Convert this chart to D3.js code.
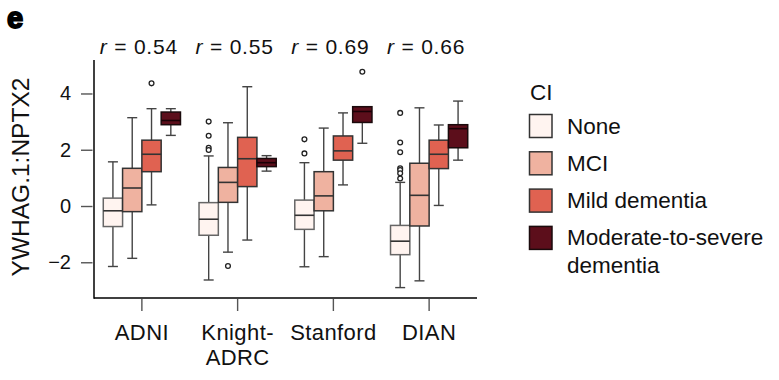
<!DOCTYPE html>
<html><head><meta charset="utf-8">
<script src="https://cdn.jsdelivr.net/npm/d3@7"></script>
<style>body{margin:0;background:#fff}svg{display:block;font-family:"Liberation Sans",Arial,sans-serif}</style>
</head><body><svg id="c" width="779" height="380"></svg>
<script>
const cohorts = ["ADNI", "Knight-ADRC", "Stanford", "DIAN"];
const cohortLines = [["ADNI"], ["Knight-", "ADRC"], ["Stanford"], ["DIAN"]];
const rValues = ["0.54", "0.55", "0.69", "0.66"];
const ciLevels = ["None", "MCI", "Mild dementia", "Moderate-to-severe dementia"];
const ciLegend = [["None"], ["MCI"], ["Mild dementia"], ["Moderate-to-severe", "dementia"]];
const ciColors = ["#fff4f0", "#efb2a0", "#e06251", "#5c0e1b"];
const yTicks = [-2, 0, 2, 4];
// [whisker low, Q1, median, Q3, whisker high] per cohort, per CI level
const statsADNI = [[-2.15, -0.73, -0.17, 0.28, 1.57], [-1.86, -0.2, 0.64, 1.34, 3.14], [0.04, 1.22, 1.84, 2.34, 3.46], [2.51, 2.89, 3.04, 3.34, 3.46]];
const statsKnight = [[-2.63, -1.04, -0.47, 0.12, 1.78], [-1.64, 0.13, 0.84, 1.37, 2.96], [-1.21, 0.69, 1.68, 2.44, 4.24], [1.24, 1.40, 1.54, 1.69, 1.79]];
const statsStanford = [[-2.16, -0.83, -0.33, 0.21, 1.54], [-1.8, -0.17, 0.36, 1.22, 2.77], [0.75, 1.63, 1.96, 2.49, 3.31], [2.23, 2.97, 3.36, 3.53, 3.53]];
const statsDIAN = [[-2.9, -1.73, -1.25, -0.69, 0.84], [-2.66, -0.71, 0.38, 1.52, 3.49], [0.02, 1.33, 1.84, 2.34, 2.88], [1.63, 2.07, 2.75, 2.89, 3.73]];
const outADNI = [[], [], [4.36], []];
const outKnight = [[3.0, 2.5, 2.07, 1.99], [-2.13], [], []];
const outStanford = [[2.37, 1.87], [], [], [4.77]];
const outDIAN = [[3.31, 2.26, 1.91, 1.34, 1.28, 1.16, 0.98], [], [], []];

const allStats = [statsADNI, statsKnight, statsStanford, statsDIAN];
const allOut = [outADNI, outKnight, outStanford, outDIAN];

const svg = d3.select("#c");
const x = d3.scaleBand().domain(cohorts).range([94, 477]);
const boxW = 19.3;
const xs = d3.scaleBand().domain(ciLevels).range([-2 * boxW, 2 * boxW]);
const y = d3.scaleLinear().domain([-3.27, 5.19]).range([298, 60]);
const color = d3.scaleOrdinal().domain(ciLevels).range(ciColors);

// panel label
svg.append("text").attr("x", 7).attr("y", 28).attr("font-size", 29).attr("font-weight", 900)
  .attr("stroke", "#000").attr("stroke-width", 1.8).text("e");

// r labels
svg.selectAll("text.r").data(cohorts).join("text").attr("class", "r")
  .attr("x", (d) => x(d) + x.bandwidth() / 2 - 3).attr("y", 54)
  .attr("text-anchor", "middle").attr("font-size", 21).attr("letter-spacing", 0.8).attr("fill", "#111")
  .each(function (d, i) {
    const t = d3.select(this);
    t.append("tspan").attr("font-style", "italic").text("r");
    t.append("tspan").text(" = " + rValues[i]);
  });

// y axis
const ya = svg.append("g").attr("transform", "translate(92.5,0)")
  .call(d3.axisLeft(y).tickValues(yTicks).tickSize(11.5).tickPadding(10).tickFormat((d) => d < 0 ? "\u2212" + Math.abs(d) : d));
ya.select(".domain").remove();
ya.selectAll(".tick line").attr("stroke", "#555").attr("stroke-width", 1.4);
ya.selectAll(".tick text").attr("font-size", 20).attr("fill", "#111").attr("font-family", "Liberation Sans, Arial, sans-serif");

// x axis
const xa = svg.append("g").attr("transform", "translate(0,299)")
  .call(d3.axisBottom(x).tickSize(12).tickFormat(""));
xa.select(".domain").remove();
xa.selectAll(".tick line").attr("stroke", "#555").attr("stroke-width", 1.4);
svg.selectAll("text.xl").data(cohorts).join("text").attr("class", "xl")
  .attr("x", (d) => x(d) + x.bandwidth() / 2).attr("y", 340)
  .attr("text-anchor", "middle").attr("font-size", 22).attr("letter-spacing", 0.4).attr("fill", "#111")
  .each(function (d, i) {
    const t = d3.select(this);
    cohortLines[i].forEach((ln, j) => t.append("tspan").attr("x", x(d) + x.bandwidth() / 2).attr("dy", j ? 25 : 0).text(ln));
  });

// axis lines
svg.append("line").attr("x1", 94).attr("x2", 94).attr("y1", y.range()[1]).attr("y2", y.range()[0] + 0.75).attr("stroke", "#000").attr("stroke-width", 1.5);
svg.append("line").attr("x1", 94).attr("x2", 477).attr("y1", 298).attr("y2", 298).attr("stroke", "#000").attr("stroke-width", 1.5);

// y title
svg.append("text").attr("transform", `translate(28.5,${(y(-3.27) + y(5.19)) / 2 - 2}) rotate(-90)`)
  .attr("text-anchor", "middle").attr("font-size", 24.5).attr("fill", "#111").text("YWHAG.1:NPTX2");

// boxes
cohorts.forEach((c, ci) => {
  const g = svg.append("g").attr("transform", `translate(${x(c) + x.bandwidth() / 2},0)`);
  ciLevels.forEach((lv, li) => {
    const s = allStats[ci][li];
    const cx = xs(lv) + xs.bandwidth() / 2;
    const dark = li === 3;
    const strokeC = dark ? "#1a0a0c" : (li === 0 ? "#666" : "#333");
    // whiskers
    g.append("line").attr("x1", cx).attr("x2", cx).attr("y1", y(s[0])).attr("y2", y(s[4])).attr("stroke", "#444").attr("stroke-width", 1.4);
    [s[0], s[4]].forEach((v) => g.append("line").attr("x1", cx - 5).attr("x2", cx + 5).attr("y1", y(v)).attr("y2", y(v)).attr("stroke", "#444").attr("stroke-width", 1.4));
    // box
    g.append("rect").attr("x", xs(lv)).attr("width", xs.bandwidth()).attr("y", y(s[3])).attr("height", y(s[1]) - y(s[3]))
      .attr("fill", color(lv)).attr("stroke", strokeC).attr("stroke-width", 1.5);
    g.append("line").attr("x1", xs(lv)).attr("x2", xs(lv) + xs.bandwidth()).attr("y1", y(s[2])).attr("y2", y(s[2]))
      .attr("stroke", dark ? "#1a0006" : "#333").attr("stroke-width", 1.6);
    // outliers
    g.selectAll(null).data(allOut[ci][li]).join("circle").attr("cx", cx).attr("cy", (d) => y(d)).attr("r", 2.4)
      .attr("fill", "#fff").attr("stroke", "#222").attr("stroke-width", 1.3);
  });
});

// legend
const lg = svg.append("g");
lg.append("text").attr("x", 530).attr("y", 100).attr("font-size", 22.5).attr("fill", "#111").text("CI");
ciLevels.forEach((lv, i) => {
  const top = 114.5 + i * 37.3;
  lg.append("rect").attr("x", 529.5).attr("y", top).attr("width", 22.5).attr("height", 23)
    .attr("fill", color(lv)).attr("stroke", i === 3 ? "#1a0a0c" : "#333").attr("stroke-width", 1.5);
  const t = lg.append("text").attr("font-size", 22.5).attr("fill", "#111");
  ciLegend[i].forEach((ln, j) => t.append("tspan").attr("x", 567).attr("y", top + 19 + j * 27.7).text(ln));
});
</script></body></html>
